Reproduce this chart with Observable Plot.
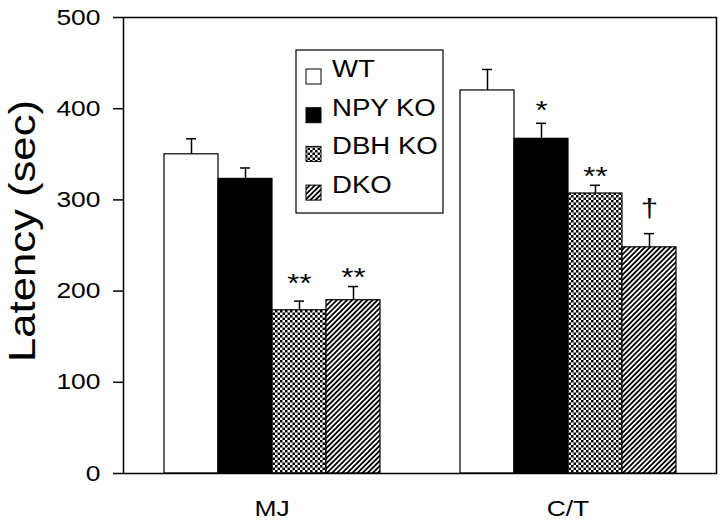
<!DOCTYPE html>
<html><head><meta charset="utf-8">
<script src="https://cdn.jsdelivr.net/npm/d3@7"></script>
<script src="https://cdn.jsdelivr.net/npm/@observablehq/plot@0.6"></script>
<style>
body{margin:0;background:#fff;}
#chart{position:relative;width:720px;height:529px;}
#chart svg{position:absolute;left:0;top:0;}
</style></head><body><div id="chart"></div>
<script>
const groups = ["MJ", "C/T"];
const genotypes = ["WT", "NPY KO", "DBH KO", "DKO"];
const latencyMJ = [350, 323, 179, 190];
const errorTopMJ = [367, 335, 189, 205];
const latencyCT = [420, 367, 307, 248];
const errorTopCT = [443, 384, 316, 263];
const annotMJ = ["", "", "**", "**"];
const annotYMJ = [null, null, 208, 215];
const annotCT = ["", "*", "**", "†"];
const annotYCT = [null, 398, 326, 290];
const yTicks = [0, 100, 200, 300, 400, 500];
const fills = ["white", "black", "url(#checker)", "url(#hatch)"];
const yLabel = "Latency (sec)";

const rows = [];
const annots = [];
genotypes.forEach((g, i) => {
  rows.push({group: "MJ", genotype: g, value: latencyMJ[i], err: errorTopMJ[i]});
  rows.push({group: "C/T", genotype: g, value: latencyCT[i], err: errorTopCT[i]});
  if (annotMJ[i]) annots.push({group: "MJ", genotype: g, label: annotMJ[i], y: annotYMJ[i]});
  if (annotCT[i]) annots.push({group: "C/T", genotype: g, label: annotCT[i], y: annotYCT[i]});
});

const dims = {width: 720, height: 529, marginLeft: 123, marginRight: 4, marginTop: 17, marginBottom: 56};
const font = "'Liberation Sans', Arial, sans-serif";

// base layer: grouped bars, error bars, significance marks, group labels
const plot = Plot.plot({
  ...dims,
  style: {fontFamily: font, fontSize: "22px", background: "white", color: "black"},
  fx: {domain: groups, paddingInner: 0.266, paddingOuter: 0.133, label: null},
  x: {domain: genotypes, padding: 0, axis: null},
  y: {domain: [0, 500], axis: null},
  color: {domain: genotypes, range: fills},
  marks: [
    Plot.axisFx({anchor: "bottom", tickSize: 0, tickPadding: 27, label: null, fontSize: 22}),
    Plot.barY(rows, {fx: "group", x: "genotype", y: "value", fill: "genotype", stroke: "black", strokeWidth: 1.2}),
    Plot.ruleX(rows, {fx: "group", x: "genotype", y1: "value", y2: "err", stroke: "black", strokeWidth: 1.5}),
    Plot.tickY(rows, {fx: "group", x: "genotype", y: "err", stroke: "black", strokeWidth: 1.5, insetLeft: 22, insetRight: 22}),
    Plot.text(annots, {fx: "group", x: "genotype", y: "y", text: "label", fontSize: 26})
  ]
});

// overlay layer: y axis, plot frame, axis title, legend
const overlay = Plot.plot({
  ...dims,
  style: {fontFamily: font, fontSize: "22px", background: "none", color: "black"},
  y: {domain: [0, 500], axis: null},
  marks: [
    Plot.axisY({ticks: yTicks, tickSize: 10, tickPadding: 13, label: null, fontSize: 22, strokeWidth: 1.5}),
    Plot.frame({stroke: "black", strokeWidth: 1.5})
  ]
});

const svg = d3.select(plot);
const defs = svg.insert("defs", ":first-child");
const chk = defs.append("pattern").attr("id", "checker").attr("patternUnits", "userSpaceOnUse")
  .attr("width", 5).attr("height", 5);
chk.append("rect").attr("width", 5).attr("height", 5).attr("fill", "white");
chk.append("rect").attr("width", 2.5).attr("height", 2.5).attr("fill", "black");
chk.append("rect").attr("x", 2.5).attr("y", 2.5).attr("width", 2.5).attr("height", 2.5).attr("fill", "black");
const hat = defs.append("pattern").attr("id", "hatch").attr("patternUnits", "userSpaceOnUse")
  .attr("width", 3.6).attr("height", 3.6).attr("patternTransform", "rotate(45)");
hat.append("rect").attr("width", 3.6).attr("height", 3.6).attr("fill", "white");
hat.append("rect").attr("width", 1.8).attr("height", 3.6).attr("fill", "black");

const ov = d3.select(overlay);
ov.append("text")
  .attr("class", "ylabel")
  .attr("transform", "translate(35,231) rotate(-90)")
  .attr("text-anchor", "middle")
  .attr("font-size", 36)
  .attr("fill", "black")
  .text(yLabel);

const lg = ov.append("g").attr("font-size", 23).attr("text-anchor", "start");
lg.append("rect").attr("x", 296).attr("y", 50).attr("width", 147).attr("height", 163)
  .attr("fill", "white").attr("stroke", "black").attr("stroke-width", 1.2);
genotypes.forEach((g, i) => {
  const base = 77 + i * 38.7;
  lg.append("rect").attr("x", 306).attr("y", base - 8).attr("width", 15).attr("height", 15)
    .attr("fill", fills[i]).attr("stroke", "black").attr("stroke-width", 1);
  lg.append("text").attr("x", 332).attr("y", base).attr("fill", "black")
    .attr("text-anchor", "start").text(g);
});

const chart = document.getElementById("chart");
chart.appendChild(plot);
chart.appendChild(overlay);

// widen text to mimic the original's broad typeface
[plot, overlay].forEach(s => s.querySelectorAll("text").forEach(t => {
  if (t.querySelector("tspan")) return;
  const str = t.textContent.trim();
  if (!str) return;
  const len = t.getComputedTextLength();
  if (len > 0) {
    const target = t.classList.contains("ylabel") ? 262 : len * 1.2;
    t.setAttribute("textLength", target.toFixed(1));
    t.setAttribute("lengthAdjust", "spacingAndGlyphs");
  }
}));
</script></body></html>
